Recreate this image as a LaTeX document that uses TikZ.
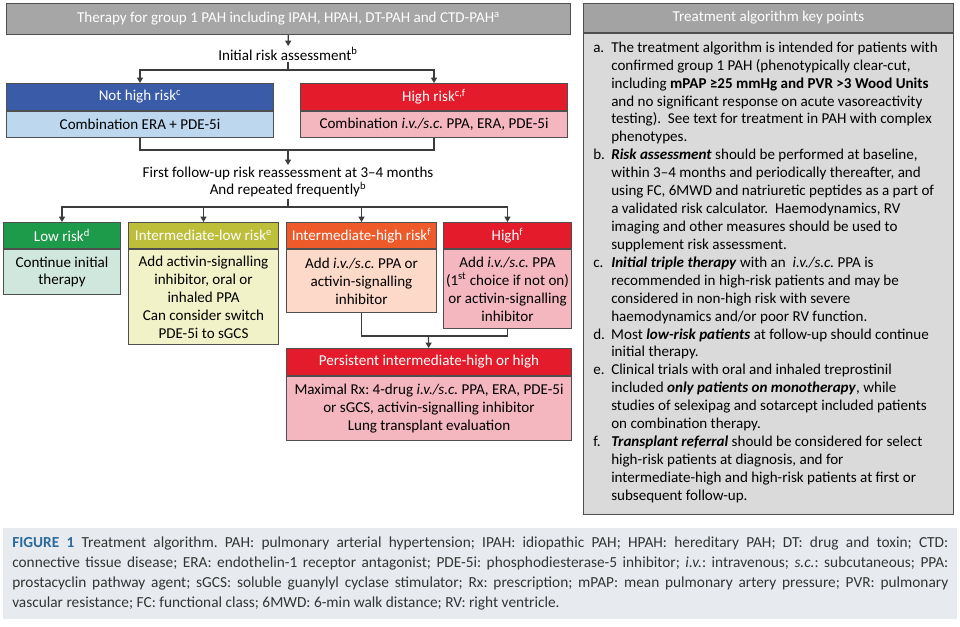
\documentclass[tikz,border=0pt]{standalone}
\usepackage{fontspec}
\setmainfont{Carlito}
\frenchspacing
\usetikzlibrary{arrows.meta,positioning}
\definecolor{edge}{HTML}{4F4F4F}
\definecolor{linegray}{HTML}{3C3C3C}
\definecolor{headgray}{HTML}{A6A6A6}
\definecolor{nhblue}{HTML}{3A5BA7}
\definecolor{nhlight}{HTML}{BDD7EE}
\definecolor{riskred}{HTML}{E31B2A}
\definecolor{riskpink}{HTML}{F4B7BF}
\definecolor{lowgreen}{HTML}{1E9A4B}
\definecolor{lowlight}{HTML}{CFE7DD}
\definecolor{ilolive}{HTML}{BDBE3A}
\definecolor{illight}{HTML}{F1F2C8}
\definecolor{ihorange}{HTML}{EF5A2A}
\definecolor{ihlight}{HTML}{FCD9C8}
\definecolor{panelhead}{HTML}{A3A3A3}
\definecolor{panelbody}{HTML}{DADADA}
\definecolor{capbg}{HTML}{E7EBEF}
\definecolor{capblue}{HTML}{2B6A99}
\definecolor{captext}{HTML}{333333}
\begin{document}
\begin{tikzpicture}[x=0.75pt, y=-0.75pt, font=\fontsize{11.3}{13.44}\selectfont,
    box/.style={draw=edge, line width=0.75pt, align=center, inner sep=0pt},
    head/.style={box, text=white, minimum height=20.25pt, anchor=north west},
    body/.style={box, anchor=north},
    conn/.style={draw=linegray, line width=0.9pt},
    arr/.style={conn, -{Triangle[width=4.5pt,length=4pt]}},
    label/.style={inner sep=1pt, align=center}]
  \useasboundingbox (0,0) rectangle (960,627);
  \node[head, fill=headgray, minimum width=423pt, minimum height=23.25pt] (therapy) at (6,3)
    {Therapy for group 1 PAH including IPAH, HPAH, DT-PAH and CTD-PAH\textsuperscript{a}};
  \node[label] (initial) at (288,54) {Initial risk assessment\textsuperscript{b}};
  \node[head, fill=nhblue, minimum width=200.25pt] (nothighH) at (6,83) {Not high risk\textsuperscript{c}};
  \node[body, fill=nhlight, minimum width=200.25pt, minimum height=19.5pt] (nothighB) at (nothighH.south)
    {Combination ERA + PDE-5i};
  \node[head, fill=riskred, minimum width=200.25pt] (highH) at (300,83) {High risk\textsuperscript{c,f}};
  \node[body, fill=riskpink, minimum width=200.25pt, minimum height=19.5pt] (highB) at (highH.south)
    {Combination \textit{i.v./s.c.} PPA, ERA, PDE-5i};
  \node[label] (follow) at (288,182) {First follow-up risk reassessment at 3--4 months\\And repeated frequently\textsuperscript{b}};
  \node[head, fill=lowgreen, minimum width=87.75pt, minimum height=19.5pt] (lowH) at (3,222) {Low risk\textsuperscript{d}};
  \node[body, fill=lowlight, minimum width=87.75pt, minimum height=33.75pt] (lowB) at (lowH.south)
    {Continue initial\\therapy};
  \node[head, fill=ilolive, minimum width=112.5pt, minimum height=19.5pt] (intlowH) at (128,222) {Intermediate-low risk\textsuperscript{e}};
  \node[body, fill=illight, minimum width=112.5pt, minimum height=71.25pt] (intlowB) at (intlowH.south)
    {Add activin-signalling\\inhibitor, oral or\\inhaled PPA\\Can consider switch\\PDE-5i to sGCS};
  \node[head, fill=ihorange, minimum width=112.5pt, minimum height=19.5pt] (inthighH) at (286,222) {Intermediate-high risk\textsuperscript{f}};
  \node[body, fill=ihlight, minimum width=112.5pt, minimum height=47.25pt] (inthighB) at (inthighH.south)
    {Add \textit{i.v./s.c.} PPA or\\activin-signalling\\inhibitor};
  \node[head, fill=riskred, minimum width=96pt, minimum height=19.5pt] (hiH) at (443,222) {High\textsuperscript{f}};
  \node[body, fill=riskpink, minimum width=96pt, minimum height=59.25pt] (hiB) at (hiH.south)
    {Add \textit{i.v./s.c.} PPA\\(1\textsuperscript{st} choice if not on)\\or activin-signalling\\inhibitor};
  \node[head, fill=riskred, minimum width=213.75pt] (persH) at (286,348) {Persistent intermediate-high or high};
  \node[body, fill=riskpink, minimum width=213.75pt, minimum height=48pt] (persB) at (persH.south)
    {Maximal Rx: 4-drug \textit{i.v./s.c.} PPA, ERA, PDE-5i\\or sGCS, activin-signalling inhibitor\\Lung transplant evaluation};

  \coordinate (split1) at (288,70);
  \coordinate (join1) at (288,150);
  \coordinate (split2) at (288,207);
  \coordinate (join2) at (428.5,336);
  \draw[arr] (therapy) -- (initial);
  \draw[conn] (initial) -- (split1);
  \draw[arr] (split1) -| (nothighH.north);
  \draw[arr] (split1) -| (highH.north);
  \draw[conn] (nothighB.south) |- (join1) -| (highB.south);
  \draw[arr] (join1) -- (follow);
  \draw[conn] (follow) -- (split2);
  \foreach \n in {lowH,intlowH,inthighH,hiH}{
    \draw[arr] (split2) -| (\n.north);
  }
  \draw[conn] (inthighB.south) |- (join2) -| (hiB.south);
  \draw[arr] (join2) -- (persH);

  \node[head, fill=panelhead, minimum width=277.5pt, minimum height=21.75pt] (keyH) at (583,3) {Treatment algorithm key points};
  \node[body, fill=panelbody, minimum width=277.5pt, minimum height=360.75pt] (keyB) at (keyH.south) {};
  \node[anchor=north west, inner sep=0pt, align=left] (keys) at (593,39.5) {\begin{tabular}{@{}p{13.5pt}@{}l@{}}
    a.&The treatment algorithm is intended for patients with\\
    &confirmed group 1 PAH (phenotypically clear-cut,\\
    &including \textbf{mPAP ≥25 mmHg and PVR >3 Wood Units}\\
    &and no significant response on acute vasoreactivity\\
    &testing).\ \ See text for treatment in PAH with complex\\
    &phenotypes.\\
    b.&\textbf{\textit{Risk assessment}} should be performed at baseline,\\
    &within 3--4 months and periodically thereafter, and\\
    &using FC, 6MWD and natriuretic peptides as a part of\\
    &a validated risk calculator.\ \ Haemodynamics, RV\\
    &imaging and other measures should be used to\\
    &supplement risk assessment.\\
    c.&\textbf{\textit{Initial triple therapy}} with an\ \ \textit{i.v./s.c.} PPA is\\
    &recommended in high-risk patients and may be\\
    &considered in non-high risk with severe\\
    &haemodynamics and/or poor RV function.\\
    d.&Most \textbf{\textit{low-risk patients}} at follow-up should continue\\
    &initial therapy.\\
    e.&Clinical trials with oral and inhaled treprostinil\\
    &included \textbf{\textit{only patients on monotherapy}}, while\\
    &studies of selexipag and sotarcept included patients\\
    &on combination therapy.\\
    f.&\textbf{\textit{Transplant referral}} should be considered for select\\
    &high-risk patients at diagnosis, and for\\
    &intermediate-high and high-risk patients at first or\\
    &subsequent follow-up.
  \end{tabular}};

  \node[fill=capbg, anchor=north west, inner xsep=6.75pt, inner ysep=0pt, text width=702pt, minimum height=68.25pt,
    align=justify, text=captext, font=\fontsize{11.5}{15}\selectfont] (caption) at (3,528)
    {{\color{capblue}\textbf{FIGURE 1}} Treatment algorithm. PAH: pulmonary arterial hypertension; IPAH: idiopathic PAH; HPAH: hereditary PAH; DT: drug and toxin; CTD:\linebreak
    connective tissue disease; ERA: endothelin-1 receptor antagonist; PDE-5i: phosphodiesterase-5 inhibitor; \textit{i.v.}: intravenous; \textit{s.c.}: subcutaneous; PPA:\linebreak
    prostacyclin pathway agent; sGCS: soluble guanylyl cyclase stimulator; Rx: prescription; mPAP: mean pulmonary artery pressure; PVR: pulmonary\linebreak
    vascular resistance; FC: functional class; 6MWD: 6-min walk distance; RV: right ventricle.};
\end{tikzpicture}
\end{document}
